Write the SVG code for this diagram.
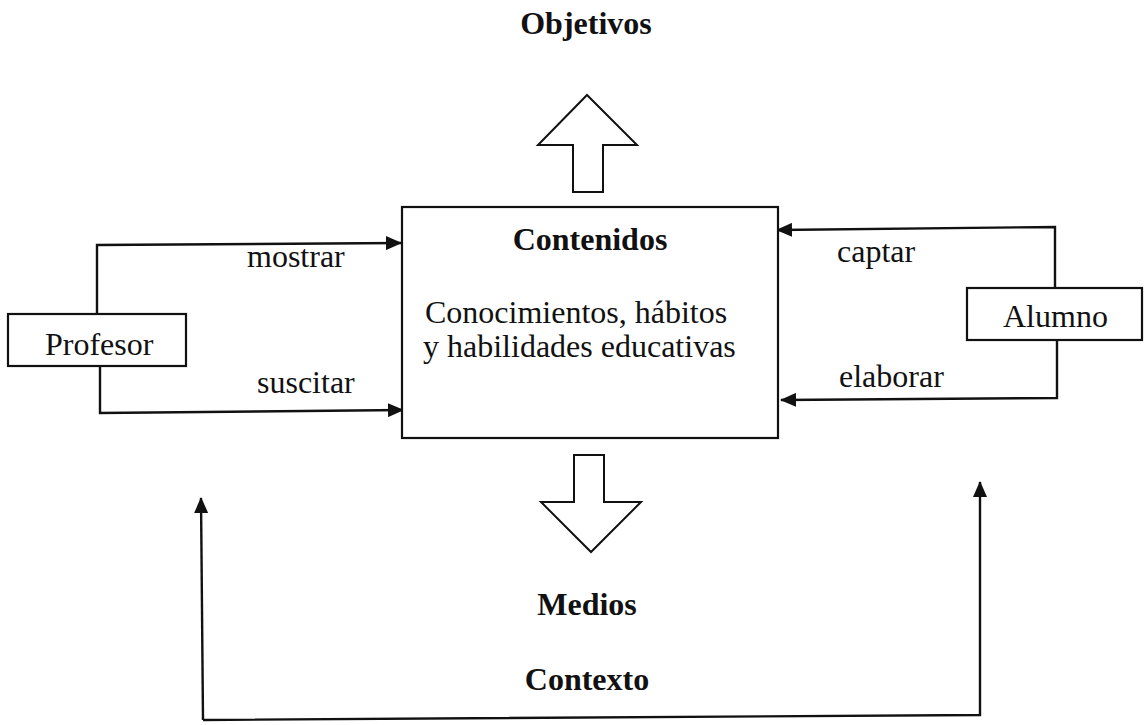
<svg xmlns="http://www.w3.org/2000/svg" width="1144" height="725" viewBox="0 0 1144 725">
<style>
.box{fill:#fff;stroke:#111;stroke-width:2.2}
.ln{fill:none;stroke:#111;stroke-width:2.4}
.big{fill:#fff;stroke:#111;stroke-width:2;stroke-linejoin:miter}
.t{font-family:"Liberation Serif","Times New Roman",serif;font-size:32px;fill:#111}
.b{font-family:"Liberation Serif","Times New Roman",serif;font-size:32px;font-weight:bold;fill:#111;text-anchor:middle}
</style>
<defs>
<marker id="ah" markerWidth="16" markerHeight="14" refX="15" refY="7" orient="auto" markerUnits="userSpaceOnUse">
<path d="M0,0 L16,7 L0,14 Z" fill="#111"/>
</marker>
</defs>
<rect width="1144" height="725" fill="#fff"/>
<g id="connectors">
<polyline class="ln" points="97,314 97,245 401,243" marker-end="url(#ah)"/>
<polyline class="ln" points="100,367 100,413 403,410" marker-end="url(#ah)"/>
<polyline class="ln" points="1055,288 1055,227 777,230" marker-end="url(#ah)"/>
<polyline class="ln" points="1057,340 1057,398 781,400" marker-end="url(#ah)"/>
<polyline class="ln" points="203,720 980,715 980,482" marker-end="url(#ah)"/>
<line class="ln" x1="203" y1="720" x2="201" y2="498" marker-end="url(#ah)"/>
<polygon id="arrow-up" class="big" points="587,95 637,145 603,145 603,192 573,192 573,145 538,145"/>
<polygon id="arrow-down" class="big" points="574,455 604,455 604,502 641,502 591,552 541,502 574,502"/>
</g>
<g id="objetivos"><text class="b" x="586" y="34">Objetivos</text></g>
<g id="contenidos">
<rect class="box" x="402" y="207" width="376" height="231"/>
<text class="b" x="590" y="250">Contenidos</text>
<text class="t" x="425" y="323">Conocimientos, hábitos</text>
<text class="t" x="423" y="357">y habilidades educativas</text>
</g>
<g id="profesor">
<rect class="box" x="8" y="314" width="178" height="52"/>
<text class="t" x="45" y="355">Profesor</text>
</g>
<g id="alumno">
<rect class="box" x="967" y="288" width="175" height="52"/>
<text class="t" x="1003" y="327">Alumno</text>
</g>
<g id="labels">
<text class="t" x="247" y="267">mostrar</text>
<text class="t" x="257" y="393">suscitar</text>
<text class="t" x="837" y="262">captar</text>
<text class="t" x="839" y="387">elaborar</text>
</g>
<g id="medios"><text class="b" x="587" y="615">Medios</text></g>
<g id="contexto"><text class="b" x="587" y="690">Contexto</text></g>
</svg>
